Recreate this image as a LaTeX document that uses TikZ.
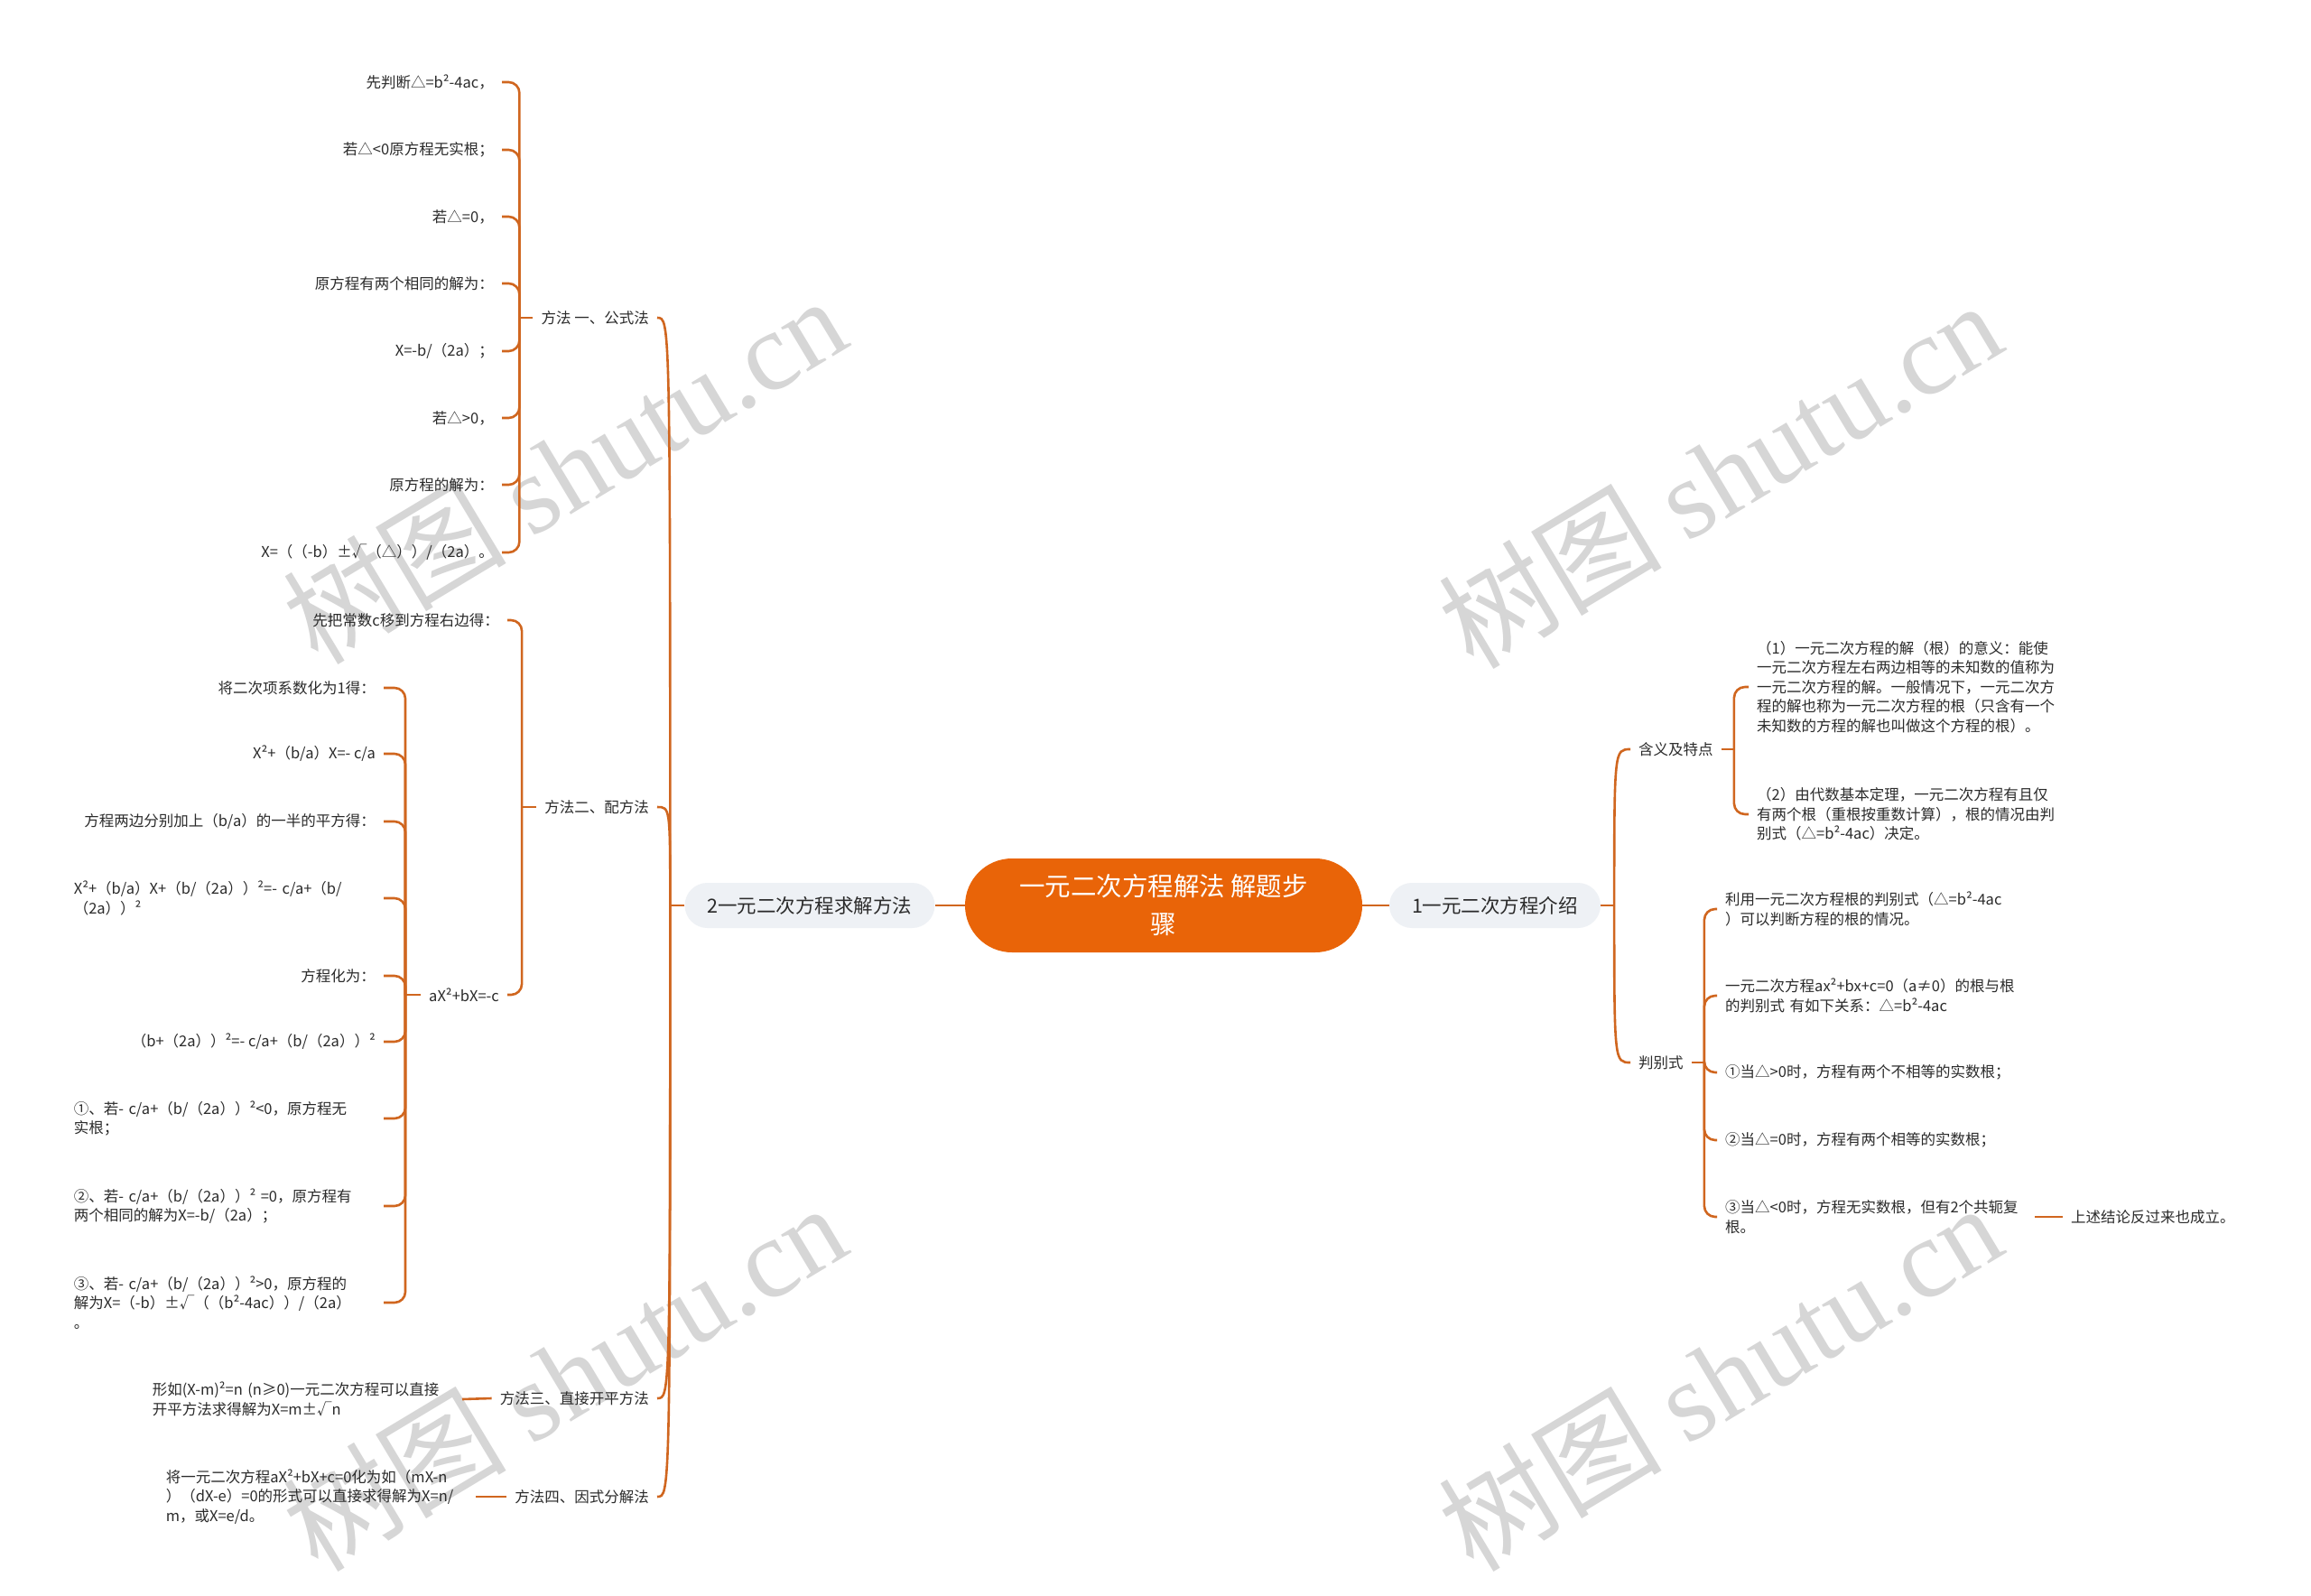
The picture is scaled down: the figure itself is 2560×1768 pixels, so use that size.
\documentclass[tikz,border=0pt]{standalone}
\usepackage{fontspec}
\setmainfont{Noto Sans CJK SC}
\newfontfamily\wmfont{Liberation Serif}

\definecolor{rootc}{HTML}{E96408}
\definecolor{linec}{HTML}{D0661F}
\definecolor{topicc}{HTML}{EEF1F5}
\definecolor{textc}{HTML}{2B2B2B}

\tikzset{
  link/.style={draw=linec, line width=2.6pt},
  hook/.style={link, rounded corners=12pt},
  rootbox/.style={fill=rootc, text=white, rounded corners=52pt, minimum width=440pt, minimum height=104pt, align=center, font=\fontsize{28.5}{42}\selectfont},
  topic/.style={fill=topicc, text=textc, rounded corners=25pt, minimum height=50pt, inner xsep=25pt, font=\fontsize{21.5}{26}\selectfont},
  sub/.style={text=textc, inner xsep=9pt, inner ysep=2pt, font=\fontsize{16.5}{21.5}\selectfont},
  note/.style={sub, text width=334pt, align=left},
  wmark/.style={text=black!16, rotate=31, font=\fontsize{124}{130}\selectfont}
}

\begin{document}
\begin{tikzpicture}[x=1pt, y=-1pt]
    \fill[white] (0,0) rectangle (2560,1768);
    \useasboundingbox (0,0) rectangle (2560,1768);

    \node[wmark] (wm1) at (625,520) {树图 {\wmfont shutu.cn}};
    \node[wmark] (wm2) at (1905,525) {树图 {\wmfont shutu.cn}};
    \node[wmark] (wm3) at (625,1525) {树图 {\wmfont shutu.cn}};
    \node[wmark] (wm4) at (1905,1525) {树图 {\wmfont shutu.cn}};

    \node[rootbox] (main) at (1289,1003) {一元二次方程解法 解题步\\骤};
    \node[topic] (intro) at (1656,1003) {1一元二次方程介绍};
    \node[topic] (solve) at (897,1003) {2一元二次方程求解方法};

    \node[sub, anchor=east] (m1) at (728,352) {方法 一、公式法};
    \node[sub, anchor=east] (m2) at (728,894) {方法二、配方法};
    \node[sub, anchor=east] (m3) at (728,1549) {方法三、直接开平方法};
    \node[sub, anchor=east] (m4) at (728,1658) {方法四、因式分解法};
    \node[sub, anchor=west] (mean) at (1806,830) {含义及特点};
    \node[sub, anchor=west] (disc) at (1806,1177) {判别式};

    \node[sub, anchor=east] (m1a) at (556,91) {先判断△=b²-4ac，};
    \node[sub, anchor=east] (m1b) at (556,166) {若△<0原方程无实根；};
    \node[sub, anchor=east] (m1c) at (556,240) {若△=0，};
    \node[sub, anchor=east] (m1d) at (556,314) {原方程有两个相同的解为：};
    \node[sub, anchor=east] (m1e) at (556,389) {X=-b/（2a）；};
    \node[sub, anchor=east] (m1f) at (556,463) {若△>0，};
    \node[sub, anchor=east] (m1g) at (556,537) {原方程的解为：};
    \node[sub, anchor=east] (m1h) at (556,612) {X=（（-b）±√（△））/（2a）。};

    \node[sub, anchor=east] (m2a) at (562,687) {先把常数c移到方程右边得：};
    \node[sub, anchor=east] (m2b) at (562,1102) {aX²+bX=-c};

    \node[sub, anchor=east] (q1) at (425,762) {将二次项系数化为1得：};
    \node[sub, anchor=east] (q2) at (425,835) {X²+（b/a）X=- c/a};
    \node[sub, anchor=east] (q3) at (425,910) {方程两边分别加上（b/a）的一半的平方得：};
    \node[note, anchor=east] (q4) at (425,995) {X²+（b/a）X+（b/（2a））²=-~c/a+（b/\\（2a））²};
    \node[sub, anchor=east] (q5) at (425,1081) {方程化为：};
    \node[sub, anchor=east] (q6) at (425,1154) {（b+（2a））²=- c/a+（b/（2a））²};
    \node[note, anchor=east] (q7) at (425,1239) {①、若-~c/a+（b/（2a））²<0，原方程无\\实根；};
    \node[note, anchor=east] (q8) at (425,1336) {②、若-~c/a+（b/（2a））²~=0，原方程有\\两个相同的解为X=-b/（2a）；};
    \node[note, anchor=east] (q9) at (425,1443) {③、若-~c/a+（b/（2a））²>0，原方程的\\解为X=（-b）±√（（b²-4ac））/（2a）\\。};

    \node[note, anchor=east] (m3a) at (512,1550) {形如(X-m)²=n~(n≥0)一元二次方程可以直接\\开平方法求得解为X=m±√n};
    \node[note, anchor=east] (m4a) at (527,1658) {将一元二次方程aX²+bX+c=0化为如（mX-n\\）（dX-e）=0的形式可以直接求得解为X=n/\\m，或X=e/d。};

    \node[note, anchor=west] (mean1) at (1937,761) {（1）一元二次方程的解（根）的意义：能使\\一元二次方程左右两边相等的未知数的值称为\\一元二次方程的解。一般情况下，一元二次方\\程的解也称为一元二次方程的根（只含有一个\\未知数的方程的解也叫做这个方程的根）。};
    \node[note, anchor=west] (mean2) at (1937,902) {（2）由代数基本定理，一元二次方程有且仅\\有两个根（重根按重数计算），根的情况由判\\别式（△=b²-4ac）决定。};

    \node[note, anchor=west] (disc1) at (1902,1007) {利用一元二次方程根的判别式（△=b²-4ac\\）可以判断方程的根的情况。};
    \node[note, anchor=west] (disc2) at (1902,1103) {一元二次方程ax²+bx+c=0（a≠0）的根与根\\的判别式~有如下关系：△=b²-4ac};
    \node[sub, anchor=west] (disc3) at (1902,1188) {①当△>0时，方程有两个不相等的实数根；};
    \node[sub, anchor=west] (disc4) at (1902,1263) {②当△=0时，方程有两个相等的实数根；};
    \node[note, anchor=west] (disc5) at (1902,1348) {③当△<0时，方程无实数根，但有2个共轭复\\根。};
    \node[sub, anchor=west] (disc5a) at (2285,1348) {上述结论反过来也成立。};

    \draw[link] (main.west) -- (solve.east);
    \draw[link] (main.east) -- (intro.west);

    \coordinate (sj) at ([xshift=-16pt]solve.west);
    \coordinate (ij) at ([xshift=15pt]intro.east);
    \draw[link] (solve.west) -- (sj);
    \draw[link] (intro.east) -- (ij);
    \draw[link] (sj) .. controls (sj |- m1.east) .. (m1.east);
    \draw[link] (sj) .. controls (sj |- m2.east) .. (m2.east);
    \draw[link] (sj) .. controls (sj |- m3.east) .. (m3.east);
    \draw[link] (sj) .. controls (sj |- m4.east) .. (m4.east);
    \draw[link] (ij) .. controls (ij |- mean.west) .. (mean.west);
    \draw[link] (ij) .. controls (ij |- disc.west) .. (disc.west);

    \coordinate (m1j) at ([xshift=-15pt]m1.west);
    \draw[link] (m1.west) -- (m1j);
    \draw[hook] (m1j) |- (m1a.east);
    \draw[hook] (m1j) |- (m1b.east);
    \draw[hook] (m1j) |- (m1c.east);
    \draw[hook] (m1j) |- (m1d.east);
    \draw[hook] (m1j) |- (m1e.east);
    \draw[hook] (m1j) |- (m1f.east);
    \draw[hook] (m1j) |- (m1g.east);
    \draw[hook] (m1j) |- (m1h.east);

    \coordinate (m2j) at ([xshift=-16pt]m2.west);
    \draw[link] (m2.west) -- (m2j);
    \draw[hook] (m2j) |- (m2a.east);
    \draw[hook] (m2j) |- (m2b.east);

    \coordinate (qj) at ([xshift=-17pt]m2b.west);
    \draw[link] (m2b.west) -- (qj);
    \draw[hook] (qj) |- (q1.east);
    \draw[hook] (qj) |- (q2.east);
    \draw[hook] (qj) |- (q3.east);
    \draw[hook] (qj) |- (q4.east);
    \draw[hook] (qj) |- (q5.east);
    \draw[hook] (qj) |- (q6.east);
    \draw[hook] (qj) |- (q7.east);
    \draw[hook] (qj) |- (q8.east);
    \draw[hook] (qj) |- (q9.east);

    \draw[link] (m3.west) -- (m3a.east);
    \draw[link] (m4.west) -- (m4a.east);

    \coordinate (meanj) at ([xshift=14pt]mean.east);
    \draw[link] (mean.east) -- (meanj);
    \draw[hook] (meanj) |- (mean1.west);
    \draw[hook] (meanj) |- (mean2.west);

    \coordinate (discj) at ([xshift=14pt]disc.east);
    \draw[link] (disc.east) -- (discj);
    \draw[hook] (discj) |- (disc1.west);
    \draw[hook] (discj) |- (disc2.west);
    \draw[hook] (discj) |- (disc3.west);
    \draw[hook] (discj) |- (disc4.west);
    \draw[hook] (discj) |- (disc5.west);
    \draw[link] (disc5.east) -- (disc5a.west);
\end{tikzpicture}
\end{document}
